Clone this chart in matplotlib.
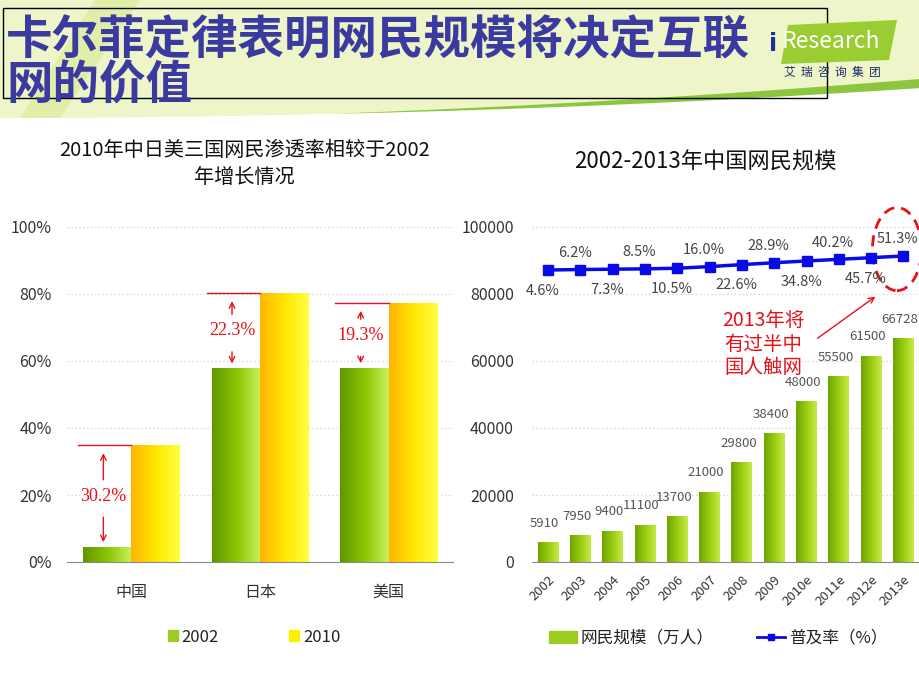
import matplotlib
matplotlib.use("Agg")
import matplotlib.pyplot as plt
import numpy as np
from matplotlib.colors import LinearSegmentedColormap
from matplotlib.patches import Patch, Rectangle, Polygon, Ellipse
from matplotlib.lines import Line2D

plt.rcParams['font.family'] = ['Noto Sans CJK SC', 'DejaVu Sans']

# ---- data ----
countries = ["中国", "日本", "美国"]
pen_2002 = [4.6, 57.9, 58.0]
pen_2010 = [34.8, 80.2, 77.3]

years = ["2002", "2003", "2004", "2005", "2006", "2007", "2008", "2009",
         "2010e", "2011e", "2012e", "2013e"]
netizens = [5910, 7950, 9400, 11100, 13700, 21000, 29800, 38400,
            48000, 55500, 61500, 66728]
penetration = [4.6, 6.2, 7.3, 8.5, 10.5, 16.0, 22.6, 28.9, 34.8, 40.2, 45.7, 51.3]

GREEN_L = LinearSegmentedColormap.from_list("gl", ["#5f9800", "#8cc400", "#c6f25a"])
YELLOW = LinearSegmentedColormap.from_list("yl", ["#ffb400", "#ffe600", "#ffff40"])
GREEN_R = LinearSegmentedColormap.from_list("gr", ["#6ea400", "#98cc10", "#c8ea48"])
GRID = dict(color="#d9d9d9", ls=(0, (1.5, 2)), lw=0.8)


def grad_bars(ax, bars, cmap):
    grad = np.linspace(0, 1, 64).reshape(1, -1)
    for b in bars:
        x, y, w, h = b.get_x(), b.get_y(), b.get_width(), b.get_height()
        im = ax.imshow(grad, cmap=cmap, aspect="auto", origin="lower",
                       extent=(x, x + w, y, y + h), zorder=2)
        im.set_clip_path(b)
        b.set_facecolor("none")


fig = plt.figure(figsize=(9.2, 6.9), dpi=100)

# ---- slide header decoration ----
bg = fig.add_axes([0, 0, 1, 1], zorder=-5)
bg.set_xlim(0, 920); bg.set_ylim(690, 0); bg.axis("off")
xs = np.linspace(0, 920, 200)
yb = 118 - 32 * (xs / 920) ** 2
bg.fill_between(xs, 0, yb, color="#eef5c8", lw=0)
bg.add_patch(Polygon([(95, 0), (140, 0), (60, 118), (20, 118)], closed=True,
                     color="#dcec9c", lw=0, alpha=0.7))
th = np.clip((xs - 330) / 590, 0, 1) * 7
bg.fill_between(xs, yb - th, yb + th * 0.3, color="#8cc63f", lw=0)
bg.add_patch(Rectangle((3, 8), 824, 90, fill=False, ec="black", lw=1))
bg.text(6, 40, "卡尔菲定律表明网民规模将决定互联", fontsize=33.5, fontweight="bold",
        color="#3a3aa0", ha="left", va="center")
bg.text(6, 86, "网的价值", fontsize=33.5, fontweight="bold",
        color="#3a3aa0", ha="left", va="center")
bg.add_patch(Polygon([(788, 25), (897, 20), (889, 60), (781, 64)], closed=True,
                     color="#9acd32", lw=0))
bg.text(769, 44, "i", fontsize=17, fontweight="bold", color="#1f2f9a",
        ha="left", va="center", family="DejaVu Sans")
bg.text(782, 42, "Research", fontsize=16.5, color="white", ha="left", va="center")
bg.text(832, 72, "艾  瑞  咨  询  集  团", fontsize=8.5, color="#1a2a6a",
        ha="center", va="center")

# ---- left chart: penetration comparison ----
ax1 = fig.add_axes([67 / 920, 1 - 562 / 690, 386 / 920, 335 / 690])
x = np.arange(len(countries))
w = 0.375
b1 = ax1.bar(x - w / 2, np.array(pen_2002) / 100, w, ec="none")
b2 = ax1.bar(x + w / 2, np.array(pen_2010) / 100, w, ec="none")
grad_bars(ax1, b1, GREEN_L)
grad_bars(ax1, b2, YELLOW)
ax1.set_xlim(-0.5, 2.5); ax1.set_ylim(0, 1)
ax1.set_yticks(np.arange(0, 1.01, 0.2))
ax1.set_yticklabels([f"{int(v * 100)}%" for v in np.arange(0, 1.01, 0.2)])
ax1.set_xticks(x); ax1.set_xticklabels(countries)
ax1.yaxis.grid(True, **GRID); ax1.set_axisbelow(True)
for s in ["top", "right", "left"]:
    ax1.spines[s].set_visible(False)
ax1.spines["bottom"].set_color("#8a8a8a")
ax1.tick_params(axis="both", length=0, labelsize=11.5, colors="#333333")
ax1.tick_params(axis="y", pad=11)
ax1.tick_params(axis="x", pad=16)
ax1.set_title("2010年中日美三国网民渗透率相较于2002\n年增长情况", fontsize=14.5,
              color="#111111", pad=32, linespacing=1.35, x=0.46)

red = "#e8101a"
for i in range(len(countries)):
    lo, hi = pen_2002[i] / 100, pen_2010[i] / 100
    mid = (lo + hi) / 2
    xl = i - w / 2 - 0.03
    ax1.plot([i - w - 0.04, i], [hi, hi], color=red, lw=1, zorder=3)
    ax1.annotate("", xy=(xl, hi - 0.015), xytext=(xl, mid + 0.04),
                 arrowprops=dict(arrowstyle="->", color=red, lw=1))
    ax1.annotate("", xy=(xl, lo + 0.005), xytext=(xl, mid - 0.055),
                 arrowprops=dict(arrowstyle="->", color=red, lw=1))
    ax1.text(xl, mid, f"{pen_2010[i] - pen_2002[i]:.1f}%", color=red,
             fontsize=13, family="Liberation Serif", ha="center", va="center",
             zorder=4)

fig.legend(handles=[Patch(color="#9ccc22"), Patch(color="#fff000")],
           labels=["2002", "2010"], loc="center",
           bbox_to_anchor=(254 / 920, 1 - 637 / 690), ncol=2, frameon=False,
           handlelength=0.6, handleheight=0.6, handletextpad=0.25,
           columnspacing=4.2, fontsize=12, labelcolor="#222222")

# ---- right chart: China netizens ----
ax2 = fig.add_axes([532 / 920, 1 - 562 / 690, 386 / 920, 335 / 690])
xr = np.arange(len(years))
b3 = ax2.bar(xr, netizens, 0.65, ec="none")
grad_bars(ax2, b3, GREEN_R)
ax2.set_xlim(-0.5, 11.45); ax2.set_ylim(0, 100000)
ax2.set_yticks(range(0, 100001, 20000))
ax2.set_xticks(xr)
ax2.set_xticklabels(years, rotation=45, ha="right", va="top",
                    rotation_mode="anchor", fontsize=9.5, color="#333333")
ax2.yaxis.grid(True, **GRID); ax2.set_axisbelow(True)
for s in ["top", "right", "left"]:
    ax2.spines[s].set_visible(False)
ax2.spines["bottom"].set_color("#8a8a8a")
ax2.tick_params(axis="y", length=0, labelsize=11.5, colors="#333333", pad=13)
ax2.tick_params(axis="x", length=0, pad=8)
for xi, v in zip(xr, netizens):
    ax2.annotate(f"{v}", (xi, v), xytext=(-2.5, 9), textcoords="offset points",
                 ha="center", va="bottom", fontsize=9.5, color="#555555")
ax2.set_title("2002-2013年中国网民规模", fontsize=16, color="#111111", pad=42, x=0.45)

ax3 = ax2.twinx()
ax3.set_ylim(-969, 148)
ax3.plot(xr, penetration, color="#0a0ae6", lw=2.5, marker="s", ms=6.5, zorder=5)
ax3.axis("off")
for k, (xi, p) in enumerate(zip(xr, penetration)):
    dy = -15 if k % 2 == 0 else 12
    ax3.annotate(f"{p:.1f}%", (xi, p), xytext=(-4, dy), textcoords="offset points",
                 ha="center", va="center", fontsize=10.5, color="#444444")

ax2.add_patch(Ellipse((10.8, 93400), 1.52, 24800, fill=False, ec=red, lw=2,
                      ls=(0, (4, 2.5)), clip_on=False, zorder=6))
ax2.text(6.66, 65000, "2013年将\n有过半中\n国人触网", color=red, fontsize=14,
         ha="center", va="center", linespacing=1.15)
ax2.annotate("", xy=(10.2, 79700), xytext=(8.27, 66300),
             arrowprops=dict(arrowstyle="->", color=red, lw=1))

fig.legend(handles=[Patch(color="#9ccc22"),
                    Line2D([], [], color="#0a0ae6", lw=2, marker="s", ms=5)],
           labels=["网民规模（万人）", "普及率（%）"], loc="center",
           bbox_to_anchor=(718 / 920, 1 - 638 / 690), ncol=2, frameon=False,
           handlelength=1.7, handleheight=0.7, handletextpad=0.2,
           columnspacing=2.6, fontsize=12, labelcolor="#222222")

fig.savefig("out.png", dpi=100)
